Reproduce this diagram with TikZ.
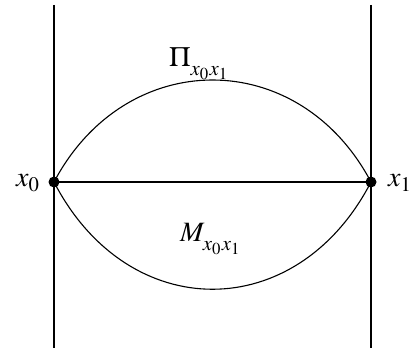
\documentclass[tikz,border=0pt]{standalone}
\usepackage{mathptmx}
\usepackage{graphicx}
\newcommand{\bigtxt}[1]{\scalebox{2.8}{#1}}
\newcommand{\lowsub}[1]{\lower1.4pt\hbox{$\scriptstyle #1$}}
\begin{document}
\begin{tikzpicture}[x=1pt,y=-1pt,
  ln/.style={line width=1.25pt},
  arcln/.style={line width=1.1pt},
  dotnode/.style={circle,fill=black,inner sep=0pt,minimum size=11pt},
  lbl/.style={inner sep=0pt}]
\useasboundingbox (0,0) rectangle (415,352);
\coordinate (lt) at (54,5);
\coordinate (lb) at (54,348);
\coordinate (rt) at (371,5);
\coordinate (rb) at (371,348);
\draw[ln] (lt) -- (lb);
\draw[ln] (rt) -- (rb);
\node[dotnode] (a) at (54,182) {};
\node[dotnode] (b) at (371,182) {};
\draw[ln] (a.center) -- (b.center);
\draw[arcln] (a.center) .. controls (126,46) and (299,46) .. (b.center);
\draw[arcln] (a.center) .. controls (128,325) and (297,325) .. (b.center);
\node[lbl,anchor=base west] (x0) at (16,187) {\bigtxt{$x_0$}};
\node[lbl,anchor=base west] (x1) at (388,187) {\bigtxt{$x_1$}};
\node[lbl,anchor=base west] (pi) at (169,67) {\bigtxt{$\Pi_{\lowsub{x_0x_1}}$}};
\node[lbl,anchor=base west] (m) at (180,242) {\bigtxt{$M_{\lowsub{x_0x_1}}$}};
\end{tikzpicture}
\end{document}
